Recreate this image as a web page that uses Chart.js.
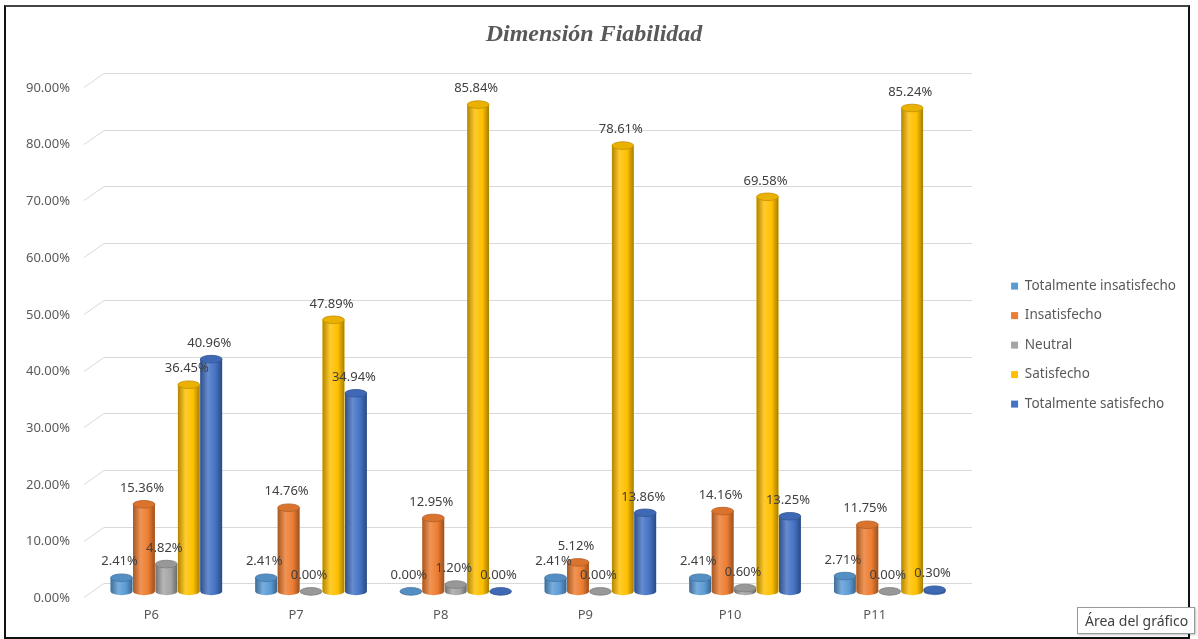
<!DOCTYPE html>
<html>
<head>
<meta charset="utf-8">
<script src="https://cdn.jsdelivr.net/npm/chart.js@4/dist/chart.umd.min.js"></script>
<style>
  html,body{margin:0;padding:0;background:#fff;}
  #wrap{position:relative;width:1198px;height:639px;overflow:hidden;}
  #chart{position:absolute;left:0;top:0;}
  #frame{position:absolute;left:4px;top:5px;width:1182px;height:630px;
    border-left:2px solid #111;border-top:2px solid #444;border-right:2px solid #111;border-bottom:2px solid #111;
    pointer-events:none;}
  #tip{position:absolute;left:1077px;top:607px;height:25px;padding:0 6px 0 7px;background:#fff;
    border:1px solid #9a9a9a;box-shadow:1px 1px 2px rgba(0,0,0,0.25);
    font:14px "Noto Sans",sans-serif;color:#404040;line-height:25px;white-space:nowrap;}
</style>
</head>
<body>
<div id="wrap">
  <canvas id="chart" width="1198" height="639"></canvas>
  <div id="frame"></div>
  <div id="tip">Área del gráfico</div>
</div>
<script>
const categories = ["P6","P7","P8","P9","P10","P11"];
const seriesNames = ["Totalmente insatisfecho","Insatisfecho","Neutral","Satisfecho","Totalmente satisfecho"];
const totInsatisfecho = [2.41, 2.41, 0.00, 2.41, 2.41, 2.71];
const insatisfecho   = [15.36, 14.76, 12.95, 5.12, 14.16, 11.75];
const neutral        = [4.82, 0.00, 1.20, 0.00, 0.60, 0.00];
const satisfecho     = [36.45, 47.89, 85.84, 78.61, 69.58, 85.24];
const totSatisfecho  = [40.96, 34.94, 0.00, 13.86, 13.25, 0.30];
const yTicks = [0, 10, 20, 30, 40, 50, 60, 70, 80, 90];

const colors = ["#5B9BD5","#ED7D31","#A5A5A5","#FFC000","#4472C4"];
const values = [totInsatisfecho, insatisfecho, neutral, satisfecho, totSatisfecho];

function shade(hex, amt){
  let r=parseInt(hex.slice(1,3),16), g=parseInt(hex.slice(3,5),16), b=parseInt(hex.slice(5,7),16);
  const f = v => amt<0 ? Math.round(v*(1+amt)) : Math.round(v+(255-v)*amt);
  return `rgb(${f(r)},${f(g)},${f(b)})`;
}

// back-wall gridlines, drawn a little above the value level with a short floor diagonal
const wallGrid = {
  id:"wallGrid",
  beforeDatasetsDraw(chart){
    const {ctx, chartArea:a, scales:{y}} = chart;
    ctx.save();
    ctx.strokeStyle="#d9d9d9";
    ctx.lineWidth=1;
    yTicks.forEach(v=>{
      const py = Math.round(y.getPixelForValue(v)-8)+0.5;
      ctx.beginPath();
      ctx.moveTo(a.left-10, py+14);
      ctx.lineTo(a.left+10, py);
      ctx.lineTo(a.right+10, py);
      ctx.stroke();
    });
    ctx.restore();
  }
};

function drawCylinder(ctx, x, top, base, w, color){
  const rx = w/2, ry = 3.8, left = x-rx;
  const g = ctx.createLinearGradient(left,0,left+w,0);
  g.addColorStop(0, shade(color,-0.3));
  g.addColorStop(0.35, shade(color,0.18));
  g.addColorStop(0.7, color);
  g.addColorStop(1, shade(color,-0.35));
  ctx.beginPath();
  ctx.moveTo(left, top);
  ctx.lineTo(left, base);
  ctx.ellipse(x, base, rx, ry, 0, Math.PI, 0, true);
  ctx.lineTo(left+w, top);
  ctx.closePath();
  ctx.fillStyle=g;
  ctx.fill();
  ctx.beginPath();
  ctx.ellipse(x, top, rx, ry, 0, 0, Math.PI*2);
  ctx.fillStyle=shade(color,-0.08);
  ctx.fill();
  ctx.strokeStyle=shade(color,-0.25);
  ctx.lineWidth=0.8;
  ctx.stroke();
}

const cylinders = {
  id:"cylinders",
  afterDatasetsDraw(chart){
    const ctx = chart.ctx;
    ctx.save();
    chart.data.datasets.forEach((ds,i)=>{
      chart.getDatasetMeta(i).data.forEach(el=>{
        const p = el.getProps(["x","y","base","width"], true);
        drawCylinder(ctx, p.x, p.y, p.base, p.width, colors[i]);
      });
    });
    // value labels
    ctx.font='13px "Noto Sans", sans-serif';
    ctx.fillStyle="#404040";
    ctx.textAlign="center";
    ctx.textBaseline="middle";
    chart.data.datasets.forEach((ds,i)=>{
      chart.getDatasetMeta(i).data.forEach((el,j)=>{
        const p = el.getProps(["x","y"], true);
        ctx.fillText(ds.data[j].toFixed(2)+"%", p.x-2, p.y-16);
      });
    });
    ctx.restore();
  }
};

new Chart(document.getElementById("chart"), {
  type:"bar",
  data:{
    labels:categories,
    datasets:seriesNames.map((n,i)=>({
      label:n,
      data:values[i],
      backgroundColor:colors[i],
      borderWidth:0,
      categoryPercentage:0.775,
      barPercentage:0.97
    }))
  },
  options:{
    responsive:false,
    animation:false,
    events:[],
    layout:{padding:{left:2,right:12,top:6,bottom:0}},
    plugins:{
      title:{
        display:true,
        text:"Dimensión Fiabilidad",
        color:"#595959",
        font:{family:"Liberation Serif",size:24,weight:"bold",style:"italic"},
        padding:{top:14.6,bottom:31.6}
      },
      legend:{
        position:"right",
        title:{display:true,text:" ",font:{size:1},padding:{top:44,bottom:0}},
        labels:{
          boxWidth:7,boxHeight:7,padding:16,
          color:"#595959",
          font:{family:"Noto Sans",size:13.5}
        }
      },
      tooltip:{enabled:false}
    },
    scales:{
      x:{
        grid:{display:false,drawTicks:false},
        border:{display:false},
        ticks:{color:"#595959",font:{family:"Noto Sans",size:13},padding:16,labelOffset:-15}
      },
      y:{
        min:0,max:90,
        afterBuildTicks(s){ s.ticks = yTicks.map(v=>({value:v})); },
        grid:{display:false,drawTicks:false},
        border:{display:false},
        ticks:{color:"#595959",font:{family:"Noto Sans",size:13},padding:24,labelOffset:7,
          callback:v=>v.toFixed(2)+"%"}
      },
      gap:{
        position:"right",
        display:true,
        grid:{display:false,drawTicks:false},
        border:{display:false},
        ticks:{display:false},
        afterFit(s){ s.width = 33; }
      }
    }
  },
  plugins:[wallGrid, cylinders]
});
</script>
</body>
</html>
